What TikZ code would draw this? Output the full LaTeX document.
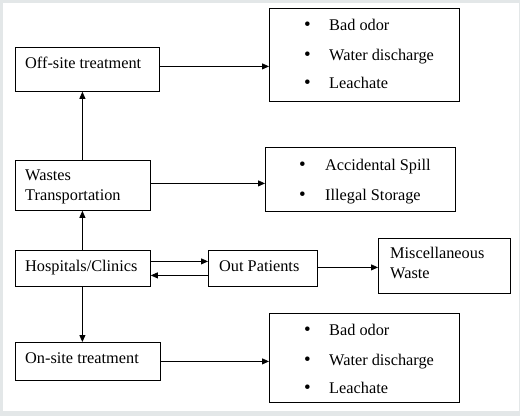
\documentclass[tikz,border=0pt]{standalone}
\usepackage{fontspec}
\setmainfont{Liberation Serif}
\usetikzlibrary{arrows.meta}
\definecolor{framegray}{HTML}{E3E7E8}
\begin{document}
\begin{tikzpicture}[x=1pt,y=-1pt,
  box/.style={draw,line width=0.8pt,inner sep=0pt,anchor=north west},
  txt/.style={anchor=base west,inner sep=0pt,font=\fontsize{16.3}{19}\selectfont},
  bul/.style={anchor=base west,inner sep=0pt,font=\fontsize{19}{19}\selectfont},
  arr/.style={line width=0.8pt,-{Triangle[length=7pt,width=6pt]}}]
\fill[framegray] (0,0) rectangle (520,416);
\fill[white] (3,3) rectangle (519,411);
% boxes
\node[box,minimum width=144pt,minimum height=44pt] (off) at (15,47) {};
\node[box,minimum width=135pt,minimum height=50pt] (wt) at (15,160) {};
\node[box,minimum width=135pt,minimum height=36pt] (hosp) at (15,250) {};
\node[box,minimum width=109pt,minimum height=36pt] (op) at (208,250) {};
\node[box,minimum width=132pt,minimum height=55pt] (misc) at (378,238) {};
\node[box,minimum width=145pt,minimum height=38pt] (on) at (15,342) {};
\node[box,minimum width=190pt,minimum height=93pt] (b1) at (269,8) {};
\node[box,minimum width=190pt,minimum height=64pt] (b2) at (265,147) {};
\node[box,minimum width=190pt,minimum height=89pt] (b3) at (269,313) {};
% texts
\node[txt] (toff) at (25,68) {Off-site treatment};
\node[txt] (twt1) at (25,180) {Wastes};
\node[txt] (twt2) at (25,200) {Transportation};
\node[txt] (thosp) at (25,271) {Hospitals/Clinics};
\node[txt] (top) at (219,271) {Out Patients};
\node[txt] (tmisc1) at (390,258) {Miscellaneous};
\node[txt] (tmisc2) at (390,278) {Waste};
\node[txt] (ton) at (25,363) {On-site treatment};
% bullet lists
\node[bul] (b1a) at (304,30) {\textbullet};
\node[txt] (b1at) at (329,30) {Bad odor};
\node[bul] (b1b) at (304,60) {\textbullet};
\node[txt] (b1bt) at (329,60) {Water discharge};
\node[bul] (b1c) at (304,88) {\textbullet};
\node[txt] (b1ct) at (329,88) {Leachate};
\node[bul] (b2a) at (299,170) {\textbullet};
\node[txt] (b2at) at (325,170) {Accidental Spill};
\node[bul] (b2b) at (299,200) {\textbullet};
\node[txt] (b2bt) at (325,200) {Illegal Storage};
\node[bul] (b3a) at (304,335) {\textbullet};
\node[txt] (b3at) at (329,335) {Bad odor};
\node[bul] (b3b) at (304,365) {\textbullet};
\node[txt] (b3bt) at (329,365) {Water discharge};
\node[bul] (b3c) at (304,393) {\textbullet};
\node[txt] (b3ct) at (329,393) {Leachate};
% connectors
\draw[arr] ([xshift=-0.5pt]wt.north) -- ([xshift=-0.5pt]wt.north |- off.south);
\draw[arr] ([xshift=-0.5pt]hosp.north) -- ([xshift=-0.5pt]hosp.north |- wt.south);
\draw[arr] ([xshift=-0.5pt]hosp.south) -- ([xshift=-0.5pt]hosp.south |- on.north);
\draw[arr] ([yshift=3pt]off.east) -- ([yshift=3pt]off.east -| b1.west);
\draw[arr] ([yshift=2pt]wt.east) -- ([yshift=2pt]wt.east -| b2.west);
\draw[arr] ([yshift=7pt]hosp.east) -- ([yshift=7pt]hosp.east -| op.west);
\draw[arr] ([yshift=-7pt]op.west) -- ([yshift=-7pt]op.west -| hosp.east);
\draw[arr] ([yshift=1pt]op.east) -- ([yshift=1pt]op.east -| misc.west);
\draw[arr] (on.east) -- (on.east -| b3.west);
\end{tikzpicture}
\end{document}
